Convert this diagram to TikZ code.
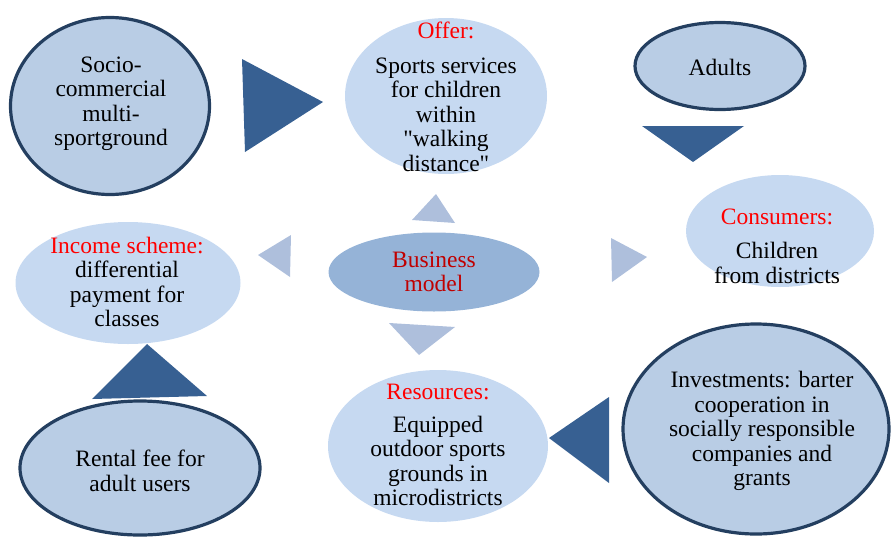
\documentclass[tikz,border=0pt]{standalone}
\usepackage{fontspec}
\setmainfont{Liberation Serif}[Ligatures=TeXOff]
\usetikzlibrary{shapes.geometric}
\definecolor{lightfill}{HTML}{C6D9F1}
\definecolor{darkfill}{HTML}{B9CDE5}
\definecolor{navy}{HTML}{243F60}
\definecolor{bmfill}{HTML}{95B3D7}
\definecolor{darktri}{HTML}{376092}
\definecolor{lighttri}{HTML}{AEBFDC}
\definecolor{lblred}{HTML}{FF0000}
\definecolor{bmred}{HTML}{C00000}
\tikzset{
  plainell/.style={ellipse, fill=lightfill, inner sep=0pt},
  borderell/.style={ellipse, fill=darkfill, draw=navy, line width=3.2pt, inner sep=0pt},
  bmell/.style={ellipse, fill=bmfill, inner sep=0pt},
  txt/.style={align=center, font=\fontsize{23.5}{24.5}\selectfont, inner sep=0pt},
  bigtri/.style={fill=darktri},
  smalltri/.style={fill=lighttri},
}
\begin{document}
\begin{tikzpicture}[x=1pt,y=-1pt]
\useasboundingbox (0,0) rectangle (891,536);
% ellipses
\node[borderell, minimum width=199pt, minimum height=177pt] (socio) at (110,106) {};
\node[plainell, minimum width=202pt, minimum height=156pt] (offer) at (446,96) {};
\node[borderell, minimum width=170pt, minimum height=87pt] (adults) at (720,66) {};
\node[plainell, minimum width=188pt, minimum height=112pt] (cons) at (780,231) {};
\node[bmell, minimum width=211pt, minimum height=79pt] (bm) at (434,272) {};
\node[plainell, minimum width=225pt, minimum height=122pt] (income) at (128,283) {};
\node[borderell, minimum width=240pt, minimum height=134pt] (rental) at (140,468) {};
\node[plainell, minimum width=220pt, minimum height=152pt] (res) at (438,446) {};
\node[borderell, minimum width=266pt, minimum height=210pt] (inv) at (756,429) {};
% texts
\node[txt] (sociot) at (111,104) {Socio-\\commercial\\multi-\\sportground};
\node[txt] (offert) at (446,97) {\textcolor{lblred}{Offer:}\\[10pt]Sports services\\for children\\within\\"walking\\distance"};
\node[txt] (adultst) at (720,67) {Adults};
\node[txt] (const) at (777,246) {\textcolor{lblred}{Consumers:}\\[10pt]Children\\from districts};
\node[txt, text=bmred] (bmt) at (434,272) {Business\\model};
\node[txt] (incomet) at (127,282) {\textcolor{lblred}{Income scheme:}\\differential\\payment for\\classes};
\node[txt] (rentalt) at (140,471) {Rental fee for\\adult users};
\node[txt] (rest) at (438,445) {\textcolor{lblred}{Resources:}\\[8pt]Equipped\\outdoor sports\\grounds in\\microdistricts};
\node[txt] (invt) at (762,431) {Investments: barter\\cooperation in\\socially responsible\\companies and\\grants};
% big dark triangles
\fill[bigtri] (242,59) -- (323,102) -- (245,152) -- cycle;
\fill[bigtri] (642,126) -- (744,126) -- (693,162) -- cycle;
\fill[bigtri] (549,438) -- (609,397) -- (609,483) -- cycle;
\fill[bigtri] (92,399) -- (147,344) -- (207,396) -- cycle;
% small light triangles
\fill[smalltri] (412,220) -- (436,194) -- (455,223) -- cycle;
\fill[smalltri] (389,323) -- (455,327) -- (419,355) -- cycle;
\fill[smalltri] (258,255) -- (291,235) -- (290,277) -- cycle;
\fill[smalltri] (611,238) -- (647,257) -- (612,282) -- cycle;
\end{tikzpicture}
\end{document}
